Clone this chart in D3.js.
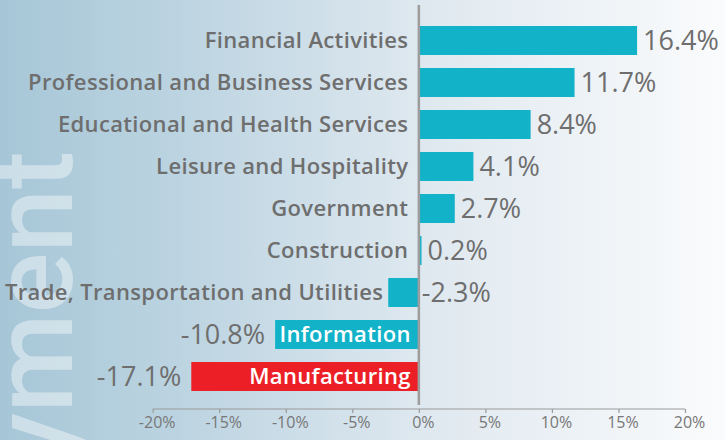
<!DOCTYPE html>
<html>
<head>
<meta charset="utf-8">
<script src="https://cdn.jsdelivr.net/npm/d3@7"></script>
<style>
  html, body { margin: 0; padding: 0; background: #fff; }
  svg { display: block; }
</style>
</head>
<body>
<svg id="chart" width="725" height="440"></svg>
<script>
const categories = [
  "Financial Activities",
  "Professional and Business Services",
  "Educational and Health Services",
  "Leisure and Hospitality",
  "Government",
  "Construction",
  "Trade, Transportation and Utilities",
  "Information",
  "Manufacturing"
];
const values = [16.4, 11.7, 8.4, 4.1, 2.7, 0.2, -2.3, -10.8, -17.1];
const highlight = ["Manufacturing"];
const tickValues = [-20, -15, -10, -5, 0, 5, 10, 15, 20];
const tickLabels = ["-20%", "-15%", "-10%", "-5%", "0%", "5%", "10%", "15%", "20%"];
const watermark = "Employment";

const W = 725, H = 440;
const svg = d3.select("#chart");

// background gradient
const defs = svg.append("defs");
const grad = defs.append("linearGradient").attr("id", "bg")
  .attr("x1", "0%").attr("x2", "100%").attr("y1", "0%").attr("y2", "0%");
grad.append("stop").attr("offset", "0%").attr("stop-color", "#a6c6d7");
grad.append("stop").attr("offset", "30%").attr("stop-color", "#c1d7e3");
grad.append("stop").attr("offset", "60%").attr("stop-color", "#e0e9f0");
grad.append("stop").attr("offset", "100%").attr("stop-color", "#fafbfc");
svg.append("rect").attr("width", W).attr("height", H).attr("fill", "url(#bg)");

// watermark
svg.append("text")
  .attr("transform", "translate(72,151) rotate(-90)")
  .attr("text-anchor", "end")
  .attr("font-family", "Roboto, sans-serif")
  .attr("font-weight", 500)
  .attr("font-size", 114)
  .attr("fill", "#ffffff")
  .attr("fill-opacity", 0.42)
  .text(watermark);

const x = d3.scaleLinear().domain([-20, 20]).range([152.7, 685]);
const y = d3.scaleBand().domain(categories).range([19.5, 397.5])
  .paddingInner(0.31).paddingOuter(0.155);

const data = categories.map((c, i) => ({ c, v: values[i] }));
const x0 = x(0);
const textColor = "#6e6e6e";
const font = "'Open Sans', sans-serif";

// bars
svg.append("g").selectAll("rect").data(data).join("rect")
  .attr("x", d => Math.min(x(d.v), x0))
  .attr("y", d => y(d.c))
  .attr("width", d => Math.abs(x(d.v) - x0))
  .attr("height", y.bandwidth())
  .attr("fill", d => highlight.includes(d.c) ? "#ec1f27" : "#12b3c9");

// axis
const axisY = 409;
const axis = d3.axisBottom(x).tickValues(tickValues)
  .tickFormat((d, i) => tickLabels[i]).tickSize(4).tickPadding(4);
const ag = svg.append("g").attr("transform", `translate(0,${axisY})`).call(axis);
ag.select(".domain").attr("stroke", "#9a9a9a").attr("stroke-width", 1.2)
  .attr("d", `M${x(-20)},0H${x(20)}`);
ag.selectAll(".tick line").attr("stroke", "#9a9a9a").attr("stroke-width", 1.2);
ag.selectAll(".tick text")
  .attr("font-family", font).attr("font-size", 16).attr("fill", "#777")
  .attr("dx", 4);

// zero line
svg.append("line")
  .attr("x1", x0).attr("x2", x0).attr("y1", 5).attr("y2", 405)
  .attr("stroke", "#9d9d9d").attr("stroke-width", 2.5);

const labelInside = d => d.v < -5;
const mid = d => y(d.c) + y.bandwidth() / 2;

// category labels
svg.append("g").selectAll("text").data(data).join("text")
  .attr("x", d => labelInside(d) ? x0 - 8 : Math.min(x0 - 10.5, x(d.v) - 5))
  .attr("y", mid)
  .attr("dy", "0.355em")
  .attr("text-anchor", "end")
  .attr("font-family", font)
  .attr("font-weight", 600)
  .attr("font-size", 22)
  .attr("letter-spacing", 0.35)
  .attr("fill", d => labelInside(d) ? "#ffffff" : textColor)
  .text(d => d.c);

// value labels
svg.append("g").selectAll("text").data(data).join("text")
  .attr("x", d => d.v >= 0 ? x(d.v) + 6 : (labelInside(d) ? x(d.v) - 10 : x0 + 3))
  .attr("y", mid)
  .attr("dy", "0.36em")
  .attr("text-anchor", d => d.v >= 0 || !labelInside(d) ? "start" : "end")
  .attr("font-family", font)
  .attr("font-weight", 500)
  .attr("font-size", 27)
  .attr("fill", textColor)
  .text(d => d3.format(".1f")(d.v).replace("−", "-") + "%");
</script>
</body>
</html>
